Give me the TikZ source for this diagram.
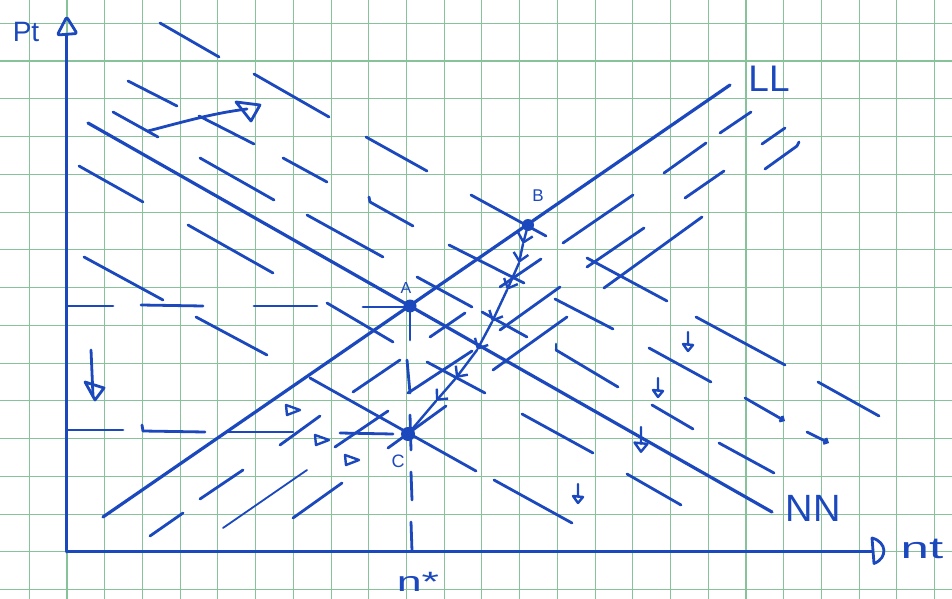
\documentclass[tikz,border=0pt]{standalone}
\usepackage{fontspec}
\setmainfont{Liberation Sans}
\usetikzlibrary{arrows.meta}
\definecolor{ink}{RGB}{28,72,190}
\definecolor{gridc}{RGB}{135,194,155}
\begin{document}
\begin{tikzpicture}[x=1pt,y=-1pt,
  pen/.style={draw=ink,line width=2.8pt,line cap=round,line join=round},
  gridline/.style={draw=gridc,line width=1.1pt},
  lbl/.style={text=ink,inner sep=0pt},
  dot/.style={fill=ink},
  chev/.pic={\draw[pen,line width=2.4pt] (-7,-5) -- (7,0) -- (-6,5) -- cycle;},
  dmark/.pic={\draw[pen,line width=2.4pt] (0,-10) -- (0,3) (-5,2) -- (5,3) -- (0,9) -- cycle;},
  barb/.style={-{Straight Barb[length=8pt,width=15pt]}}
]
\useasboundingbox (0,0) rectangle (952,599);
\fill[white] (0,0) rectangle (952,599);
% graph paper
\foreach \k in {0,...,24} \draw[gridline] ({29.3+37.72*\k},0) -- ({29.3+37.72*\k},599);
\foreach \k in {0,...,15} \draw[gridline] (0,{23.3+37.75*\k}) -- (952,{23.3+37.75*\k});

% hatch strokes parallel to NN
\foreach \a/\b/\c/\d in {160/23/219/57, 254/74/329/117, 128/81/177/106, 113/112/158/137,
  199/116/254/144, 200/158/274/200, 283/158/327/182, 79/166/143/202, 366/137/427/171,
  370/202/413/226, 307/215/383/257, 84/257/163/300, 188/225/273/273, 196/317/267/355,
  327/303/393/342, 417/277/472/307, 449/245/524/283, 471/195/546/236, 482/312/527/337,
  427/362/485/393, 310/378/476/471, 555/299/613/329, 587/258/667/301, 556/350/618/387,
  696/317/785/365, 649/348/711/382, 818/382/879/416, 652/405/693/429, 719/443/774/473,
  627/474/681/505, 522/414/593/453, 494/480/572/523}
  \draw[pen] (\a,\b) -- (\c,\d);
\draw[pen] (369,197) -- (370,202);
\draw[pen] (556,344) -- (556,350);
\draw[pen,-{Straight Barb[length=3pt,width=6pt]}] (745,398) -- (785,421);
\draw[pen,-{Straight Barb[length=3pt,width=6pt]}] (807,432) -- (829,443);

% hatch strokes parallel to LL
\foreach \a/\b/\c/\d in {563/243/633/195, 587/267/644/228, 604/288/702/217, 500/330/560/287,
  493/370/567/317, 430/337/465/313, 408/393/472/351, 353/392/400/360, 500/287/541/259,
  664/173/706/143, 685/198/724/171, 720/133/751/112, 762/144/785/128, 765/169/797/146,
  200/499/243/470, 150/536/183/513, 293/518/342/483, 280/445/320/416,
  335/447/388/411, 388/448/446/406}
  \draw[pen] (\a,\b) -- (\c,\d);
\draw[pen,line width=1.8pt] (223,528) -- (307,470);
\draw[pen] (797,146) -- (799,142);

% axes
\coordinate (O) at (66.7,551.7);
\coordinate (Ytop) at (66.7,35);
\coordinate (Xend) at (872,551.7);
\draw[pen,line width=3.2pt] (O) -- (Ytop);
\draw[pen,line width=3.2pt] (O) -- (Xend);
\draw[pen,rounded corners=2pt] (57.3,35) -- (66.7,17) -- (77,33.5) -- cycle;
\draw[pen] (872,538) .. controls (887,542) and (888,558) .. (874,563.5) -- cycle;
\node[lbl,font=\fontsize{28}{28}\selectfont] (pt) at (26,32) {Pt};
\node[lbl,font=\fontsize{30}{30}\selectfont] (nt) at (922,549) {\scalebox{1.7}[1]{nt}};

% main curves
\coordinate (LL1) at (103,517);
\coordinate (LL2) at (730,85);
\coordinate (NN1) at (88,123);
\coordinate (NN2) at (772,512);
\draw[pen,line width=3.2pt] (LL1) -- (LL2);
\draw[pen,line width=3.2pt] (NN1) -- (NN2);
\node[lbl,font=\fontsize{37}{37}\selectfont] (LLlab) at (769,79) {LL};
\node[lbl,font=\fontsize{38}{38}\selectfont] (NNlab) at (813,508) {NN};

% dashed guides (hand drawn)
\foreach \a/\b/\c/\d in {68/306/113/306, 141/305/203/306, 254/306/317/306, 363/307/407/307,
  410/306/410/340, 407/360/410/393, 410/415/411/450, 411/472/412/500, 411/522/412/551,
  68/430/123/430, 143/431/205/432, 228/432/293/432, 340/433/393/434}
  \draw[pen] (\a,\b) -- (\c,\d);
\draw[pen] (142,425) -- (143,431);

% points
\coordinate (A) at (410,306);
\coordinate (B) at (528,225);
\coordinate (C) at (408,434);
\fill[dot] (A) circle (6.5pt);
\fill[dot] (B) circle (6pt);
\fill[dot] (C) circle (7pt);
\node[lbl,font=\fontsize{16}{16}\selectfont] (Alab) at (406,288) {A};
\node[lbl,font=\fontsize{17}{17}\selectfont] (Blab) at (538,196) {B};
\node[lbl,font=\fontsize{18}{18}\selectfont] (Clab) at (398,461) {C};
\node[lbl,font=\fontsize{28}{28}\selectfont] (nstar) at (418,582) {\scalebox{1.6}[1]{n*}};

% adjustment path from B to C
\coordinate (q1) at (523,244);
\coordinate (q2) at (519,263);
\coordinate (q3) at (507,290);
\coordinate (q4) at (492,322);
\coordinate (q5) at (477,350);
\coordinate (q6) at (456,378);
\coordinate (q7) at (436,401);
\draw[pen,line width=2.4pt,barb] (B) -- (q1);
\draw[pen,line width=2.4pt,barb] (q1) -- (q2);
\draw[pen,line width=2.4pt,barb] (q2) -- (q3);
\draw[pen,line width=2.4pt,barb] (q3) -- (q4);
\draw[pen,line width=2.4pt,barb] (q4) -- (q5);
\draw[pen,line width=2.4pt,barb] (q5) -- (q6);
\draw[pen,line width=2.4pt,barb] (q6) -- (q7);
\draw[pen,line width=2.4pt] (q7) -- (C);

% direction marks
\draw[pen] (148,131) .. controls (190,120) and (215,113) .. (247,109);
\draw[pen] (236,102) -- (260,105) -- (251,121) -- cycle;
\draw[pen] (91,350) -- (93,396);
\draw[pen] (85,382) -- (104,388) -- (95,400) -- cycle;
\pic at (293,410) {chev};
\pic at (322,440) {chev};
\pic at (352,460) {chev};
\pic at (688,342) {dmark};
\pic at (658,388) {dmark};
\pic at (578,494) {dmark};
\pic[scale=1.3] at (641,440) {dmark};
\end{tikzpicture}
\end{document}
